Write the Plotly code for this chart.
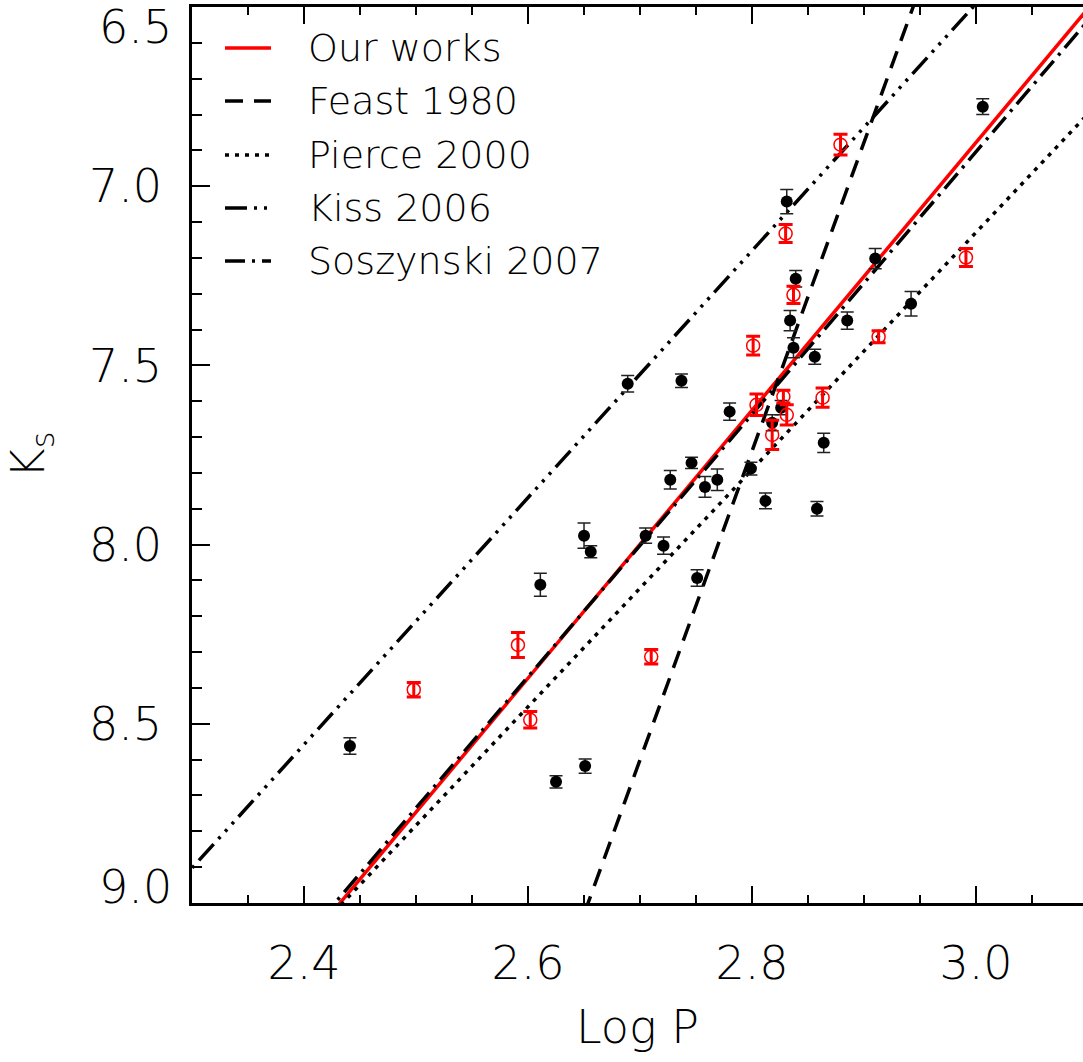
import numpy as np
import plotly.graph_objects as go

# ---- data: K_s magnitude vs log period ----
# filled black points
logp_a = [2.441, 2.625, 2.651, 2.611, 2.650, 2.656, 2.705, 2.721, 2.689, 2.737,
          2.727, 2.746, 2.751, 2.758, 2.769, 2.780, 2.799, 2.812, 2.831, 2.834,
          2.839, 2.837, 2.826, 2.818, 2.856, 2.864, 2.858, 2.885, 2.910, 2.942, 3.006]
ks_a = [8.562, 8.662, 8.618, 8.112, 7.975, 8.020, 7.975, 8.003, 7.551, 7.543,
        7.819, 7.772, 8.093, 7.839, 7.819, 7.629, 7.788, 7.878, 7.043, 7.375,
        7.258, 7.451, 7.618, 7.660, 7.476, 7.716, 7.900, 7.375, 7.202, 7.328, 6.778]
err_a = [0.023, 0.017, 0.020, 0.032, 0.035, 0.017, 0.021, 0.024, 0.023, 0.019,
         0.026, 0.016, 0.023, 0.029, 0.030, 0.024, 0.018, 0.022, 0.034, 0.028,
         0.023, 0.028, 0.020, 0.022, 0.021, 0.027, 0.020, 0.024, 0.028, 0.034, 0.022]

# open red points
logp_b = [2.498, 2.591, 2.602, 2.710, 2.801, 2.804, 2.830, 2.837, 2.828, 2.831,
          2.818, 2.863, 2.879, 2.913, 2.991]
ks_b = [8.405, 8.280, 8.489, 8.313, 7.445, 7.610, 7.132, 7.303, 7.587, 7.638,
        7.694, 7.590, 6.884, 7.420, 7.199]
err_b = [0.020, 0.035, 0.023, 0.020, 0.026, 0.030, 0.025, 0.024, 0.018, 0.028,
         0.041, 0.027, 0.029, 0.017, 0.025]

# period-luminosity relations: K = slope * logP + zero
relations = ["Our works", "Feast 1980", "Pierce 2000", "Kiss 2006", "Soszynski 2007"]
slopes = [-3.737, -8.615, -3.309, -3.445, -3.662]
zeros = [18.089, 31.861, 17.056, 16.826, 17.890]

# axis ticks
x_major = [2.4, 2.6, 2.8, 3.0]
x_labels = ["2.4", "2.6", "2.8", "3.0"]
y_major = [7.0, 7.5, 8.0, 8.5]
y_labels = ["7.0", "7.5", "8.0", "8.5"]
y_end_ticks = [6.5, 9.0]
y_end_labels = ["6.5", "9.0"]

FONT = "DejaVu Sans"
WEIGHT = 200
styles = {
    "Our works": dict(color="red", width=3.5, dash="solid"),
    "Feast 1980": dict(color="black", width=3.5, dash="18px,11px"),
    "Pierce 2000": dict(color="black", width=3.5, dash="4px,6px"),
    "Kiss 2006": dict(color="black", width=3.5, dash="22px,7px,3px,7px,3px,7px,3px,7px"),
    "Soszynski 2007": dict(color="black", width=3.5, dash="20px,7px,3px,7px"),
}

fig = go.Figure()

line_x = np.array([2.2, 3.2])
for name, m, c in zip(relations, slopes, zeros):
    fig.add_trace(go.Scatter(
        x=line_x, y=m * line_x + c, mode="lines", name=name,
        line=styles[name], showlegend=False,
    ))

fig.add_trace(go.Scatter(
    x=logp_a, y=ks_a, mode="markers", showlegend=False,
    marker=dict(symbol="circle", size=12, color="black"),
    error_y=dict(type="data", array=err_a, color="#222222", thickness=1.5, width=6.5),
))
fig.add_trace(go.Scatter(
    x=logp_b, y=ks_b, mode="markers", showlegend=False,
    marker=dict(symbol="circle-open", size=13, color="red", line=dict(width=1.5)),
    error_y=dict(type="data", array=err_b, color="red", thickness=3, width=7),
))

x_minor = [v for v in np.round(np.arange(2.35, 3.1, 0.05), 2) if v not in x_major]
y_minor = [v for v in np.round(np.arange(6.6, 9.0, 0.1), 1) if v not in y_major]

# legend drawn inside the plot: line samples plus labels
PLOT_L, PLOT_W, PLOT_T, PLOT_H = 192, 891, 7, 896
def px_x(p):
    return (p - PLOT_L) / PLOT_W
def px_y(p):
    return 1 - (p - PLOT_T) / PLOT_H

legend_rows = [48, 101, 155, 208, 261]
shapes = []
annotations = []
for name, row in zip(relations, legend_rows):
    st = styles[name]
    shapes.append(dict(type="line", xref="paper", yref="paper",
                       x0=px_x(225), x1=px_x(271), y0=px_y(row), y1=px_y(row),
                       line=dict(color=st["color"], width=st["width"], dash=st["dash"])))
    annotations.append(dict(text=name, xref="paper", yref="paper",
                            x=px_x(306), y=px_y(row), xanchor="left", yanchor="middle",
                            showarrow=False,
                            font=dict(family=FONT, size=38, weight=WEIGHT, color="black")))

for val, lab, shift in zip(y_end_ticks, y_end_labels, [-20, 16]):
    annotations.append(dict(text=lab, x=0, xref="paper", y=val, yref="y",
                            xanchor="right", yanchor="middle", xshift=-18, yshift=shift,
                            showarrow=False,
                            font=dict(size=46, family=FONT, weight=WEIGHT, color="black")))

fig.update_layout(
    width=1083, height=1062,
    margin=dict(l=192, r=0, t=7, b=159),
    paper_bgcolor="white", plot_bgcolor="white",
    font=dict(family=FONT, size=46, color="black", weight=WEIGHT),
    showlegend=False,
    shapes=shapes,
    annotations=annotations,
    xaxis=dict(
        range=[2.3, 3.0955], showgrid=False, zeroline=False,
        showline=True, linecolor="black", linewidth=2.5, mirror="ticks",
        ticks="inside", ticklen=17, tickwidth=2, tickcolor="black",
        tickvals=x_major, ticktext=x_labels, ticklabelstandoff=18,
        minor=dict(tickvals=x_minor, ticks="inside", ticklen=8, tickwidth=2, tickcolor="black"),
        title=dict(text="Log P", standoff=22, font=dict(size=46)),
    ),
    yaxis=dict(
        range=[9.0, 6.5], showgrid=False, zeroline=False,
        showline=True, linecolor="black", linewidth=2.5,
        ticks="inside", ticklen=18, tickwidth=2, tickcolor="black",
        tickvals=y_major, ticktext=y_labels, ticklabelstandoff=18,
        minor=dict(tickvals=y_minor, ticks="inside", ticklen=10, tickwidth=2, tickcolor="black"),
        title=dict(text="K<sub>s</sub>", standoff=30, font=dict(size=46)),
    ),
)

fig.write_html("out.html")
